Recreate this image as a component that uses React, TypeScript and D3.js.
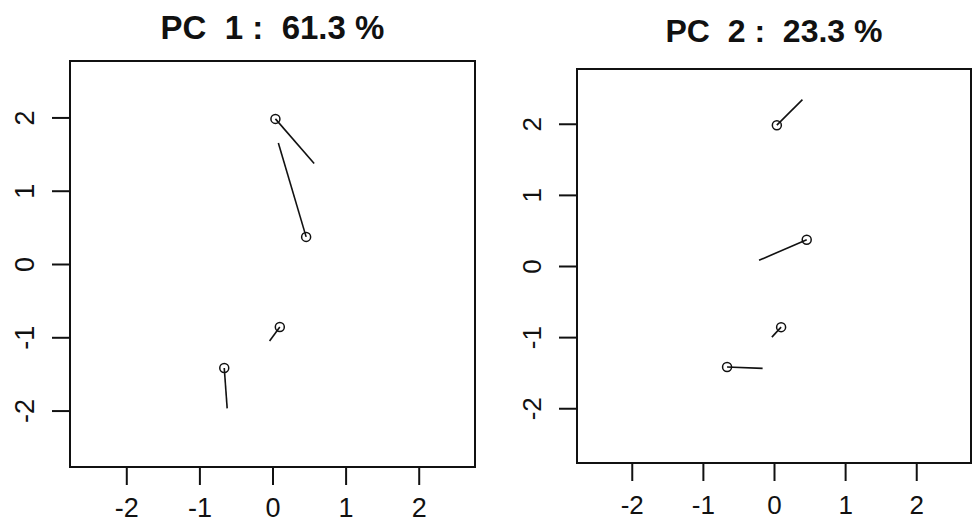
import React, { useEffect, useRef } from "react";
import * as d3 from "d3";

// scores of the four observations (same in both panels)
const pointX = [0.04, 0.46, 0.1, -0.66];
const pointY = [1.98, 0.37, -0.86, -1.42];

// end of each displacement segment, per component
const pc1EndX = [0.57, 0.08, -0.04, -0.62];
const pc1EndY = [1.37, 1.65, -1.05, -1.97];
const pc2EndX = [0.4, -0.21, -0.03, -0.16];
const pc2EndY = [2.34, 0.08, -1.0, -1.44];

const titles = ["PC  1 :  61.3 %", "PC  2 :  23.3 %"];
const ticks = [-2, -1, 0, 1, 2];
const lim = 2.77;

const panels = [
  { left: 70, top: 61, right: 475, bottom: 467, titleY: 39, titleSize: 33, tickSize: 27, labY: 50, endX: pc1EndX, endY: pc1EndY },
  { left: 577, top: 69, right: 971, bottom: 463, titleY: 42, titleSize: 32, tickSize: 26, labY: 51, endX: pc2EndX, endY: pc2EndY },
];

const App = () => {
  const svgRef = useRef<SVGSVGElement>(null);

  useEffect(() => {
    const svg = d3.select(svgRef.current);
    svg.selectAll("*").remove();
    svg.append("rect").attr("width", 972).attr("height", 524).attr("fill", "white");

    panels.forEach((p, k) => {
      const x = d3.scaleLinear().domain([-lim, lim]).range([p.left, p.right]);
      const y = d3.scaleLinear().domain([-lim, lim]).range([p.bottom, p.top]);
      const g = svg.append("g");
      const fmt = (d) => String(d); // plain hyphen minus, like R

      g.append("text")
        .attr("x", (p.left + p.right) / 2)
        .attr("y", p.titleY)
        .attr("text-anchor", "middle")
        .attr("font-size", p.titleSize)
        .attr("font-weight", "bold")
        .attr("fill", "#111")
        .style("white-space", "pre")
        .text(titles[k]);

      const xAxis = g
        .append("g")
        .attr("transform", `translate(0,${p.bottom})`)
        .call(d3.axisBottom(x).tickValues(ticks).tickSize(18).tickSizeOuter(0).tickFormat(fmt));
      xAxis.select(".domain").remove();
      xAxis.selectAll("line").attr("stroke-width", 2).attr("stroke", "#111");
      xAxis
        .selectAll("text")
        .attr("y", p.labY)
        .attr("dy", 0)
        .attr("font-size", p.tickSize)
        .attr("font-family", "Liberation Sans, Arial, sans-serif")
        .attr("fill", "#111");

      const yAxis = g
        .append("g")
        .attr("transform", `translate(${p.left},0)`)
        .call(d3.axisLeft(y).tickValues(ticks).tickSize(18).tickSizeOuter(0).tickFormat(fmt));
      yAxis.select(".domain").remove();
      yAxis.selectAll("line").attr("stroke-width", 2).attr("stroke", "#111");
      yAxis
        .selectAll("text")
        .attr("x", 0)
        .attr("dy", 0)
        .attr("transform", "translate(-36,0) rotate(-90)")
        .attr("text-anchor", "middle")
        .attr("font-size", p.tickSize)
        .attr("font-family", "Liberation Sans, Arial, sans-serif")
        .attr("fill", "#111");

      g.append("rect")
        .attr("x", p.left)
        .attr("y", p.top)
        .attr("width", p.right - p.left)
        .attr("height", p.bottom - p.top)
        .attr("fill", "none")
        .attr("stroke", "#111")
        .attr("stroke-width", 2);

      g.selectAll(".seg")
        .data(pointX)
        .join("line")
        .attr("x1", (d) => x(d))
        .attr("y1", (d, i) => y(pointY[i]))
        .attr("x2", (d, i) => x(p.endX[i]))
        .attr("y2", (d, i) => y(p.endY[i]))
        .attr("stroke", "#111")
        .attr("stroke-width", 1.6);

      g.selectAll(".pt")
        .data(pointX)
        .join("circle")
        .attr("cx", (d) => x(d))
        .attr("cy", (d, i) => y(pointY[i]))
        .attr("r", 4.5)
        .attr("fill", "none")
        .attr("stroke", "#111")
        .attr("stroke-width", 1.5);
    });
  }, []);

  return (
    <div style={{ position: "absolute", left: 0, top: 0 }}>
      <svg
        ref={svgRef}
        width={972}
        height={524}
        style={{ display: "block", fontFamily: "Liberation Sans, Arial, sans-serif" }}
      ></svg>
    </div>
  );
};

export default App;
